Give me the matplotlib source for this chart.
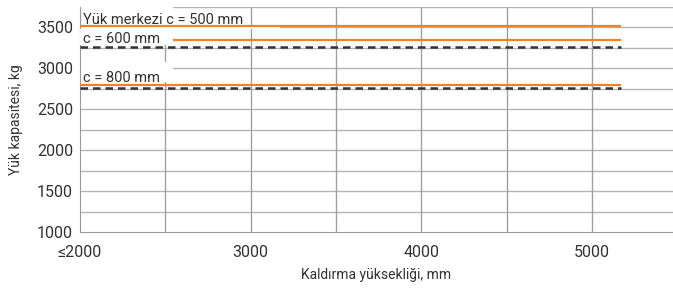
import numpy as np
import matplotlib
matplotlib.use('Agg')
import matplotlib.pyplot as plt
from matplotlib.patches import Rectangle

plt.rcParams['font.family'] = ['Roboto', 'DejaVu Sans']

# lift heights (start / end of each line), mm
lift_range = [2000, 5170]
x_ticks = [2000, 3000, 4000, 5000]
x_tick_labels = ['≤2000', '3000', '4000', '5000']
y_ticks = [1000, 1500, 2000, 2500, 3000, 3500]

# load capacity, kg
capacity_labels = ['Yük merkezi c = 500 mm', 'c = 600 mm', 'c = 800 mm']
capacity_orange = [3520, 3340, 2800]
capacity_dashed = [3260, 2760]

orange = '#f58220'
dark = '#333333'

fig = plt.figure(figsize=(6.73, 2.89), dpi=100)
ax = fig.add_axes([80 / 673, 1 - 232.3 / 289, 593 / 673, (232.3 - 6.7) / 289])

ax.set_xlim(2000, 5475)
ax.set_ylim(1000, 3750)

# grid
for y in np.arange(1250, 3751, 250):
    ax.axhline(y, color='#b4b4b4', lw=1.0, zorder=1)
for x in np.arange(2500, 5001, 500):
    ax.axvline(x, color='#a0a0a0', lw=1.0, zorder=1)

# orange capacity lines
for val in capacity_orange:
    ax.plot(lift_range, [val, val], color=orange, lw=1.6, zorder=3, solid_capstyle='butt')
# dashed lines
for val in capacity_dashed:
    ax.plot(lift_range, [val, val], color=dark, lw=1.8, ls=(0, (3, 2)), zorder=5)

# white label boxes: (x0, x1, y0, y1, zorder)
boxes = [(2000, 2545, 3480, 3750, 2),
         (2545, 3172, 3480, 3512, 2),
         (2000, 2545, 3280, 3480, 4),
         (2000, 2545, 2830, 3080, 2)]
for x0, x1, y0, y1, z in boxes:
    ax.add_patch(Rectangle((x0, y0), x1 - x0, y1 - y0, facecolor='white',
                           edgecolor='none', zorder=z))

label_y = [3540, 3310, 2837]
for txt, y in zip(capacity_labels, label_y):
    ax.text(2018, y, txt, fontsize=10.5, color='#333333', va='baseline', ha='left', zorder=6)

ax.set_xticks(x_ticks)
ax.set_xticklabels(x_tick_labels)
ax.set_yticks(y_ticks)
ax.tick_params(axis='both', length=0, labelsize=11.5, colors='#333333')
ax.tick_params(axis='x', pad=9)
ax.tick_params(axis='y', pad=5)

for side in ['top', 'right']:
    ax.spines[side].set_visible(False)
ax.spines['left'].set_color('#999999')
ax.spines['bottom'].set_color('#999999')

ax.set_xlabel('Kaldırma yüksekliği, mm', fontsize=10, color='#333333', labelpad=6)
ax.set_ylabel('Yük kapasitesi, kg', fontsize=10, color='#333333', labelpad=10)

fig.savefig('out.png', dpi=100)
